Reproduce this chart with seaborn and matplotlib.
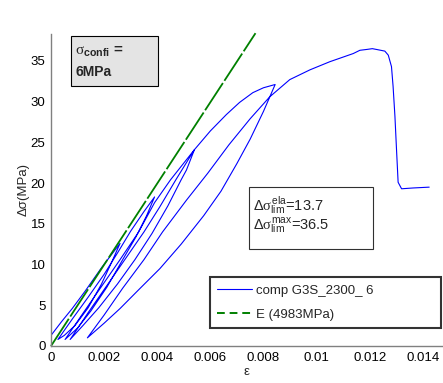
import pandas as pd
import seaborn as sns
import matplotlib
matplotlib.use("Agg")
import matplotlib.pyplot as plt
from matplotlib.patches import Rectangle
from matplotlib.lines import Line2D

# strain / stress path (loops, then envelope and failure)
strain = [0, 0.0004, 0.0008, 0.0013, 0.0019, 0.0026,
          0.0023, 0.0019, 0.0014, 0.0009, 0.0005, 0.00026,
          0.0008, 0.0014, 0.0020, 0.0025, 0.0030, 0.0035, 0.0039,
          0.0036, 0.0032, 0.0027, 0.0021, 0.0015, 0.0010, 0.00053,
          0.0012, 0.0019, 0.0026, 0.0033, 0.0039, 0.0045, 0.0054,
          0.0051, 0.0049, 0.0044, 0.0038, 0.00316, 0.0025, 0.0018, 0.0012, 0.00072,
          0.0014, 0.0021, 0.0028, 0.0035, 0.0041, 0.0047, 0.0054,
          0.0060, 0.0066, 0.0071, 0.0076, 0.0080, 0.00844,
          0.0080, 0.0075, 0.0070, 0.0064, 0.00575, 0.0049, 0.0041, 0.0033, 0.0026, 0.0020, 0.00137,
          0.0020, 0.0027, 0.0035, 0.0042, 0.0051, 0.0059, 0.0067, 0.0075, 0.00824,
          0.00899, 0.00975, 0.0105, 0.01138, 0.01163, 0.01188, 0.0121, 0.01226, 0.01257,
          0.0127, 0.01282, 0.01288, 0.01295, 0.01301, 0.01307, 0.0132, 0.01364, 0.01424]
stress = [1.3, 3.0, 4.6, 6.8, 9.6, 12.6,
          10.4, 7.6, 4.7, 2.5, 1.3, 0.8,
          3.3, 6.0, 8.8, 11.4, 14.1, 16.5, 18.3,
          16.0, 13.4, 10.6, 7.2, 4.3, 2.2, 0.8,
          4.0, 7.3, 10.6, 14.0, 17.6, 20.4, 24.1,
          21.6, 20.4, 17.2, 13.8, 10.6, 7.6, 4.7, 2.5, 0.8,
          4.1, 7.4, 10.7, 14.0, 17.1, 20.4, 24.1,
          26.4, 28.4, 29.9, 31.1, 31.7, 32.1,
          28.8, 25.4, 22.4, 19.0, 16.0, 12.5, 9.5, 6.9, 4.6, 2.8, 1.0,
          3.8, 7.1, 10.6, 14.0, 17.9, 21.2, 24.7, 27.9, 30.6,
          32.7, 33.9, 34.9, 35.9, 36.3, 36.4, 36.5, 36.4, 36.2,
          35.7, 34.3, 31.9, 28.2, 24.1, 20.1, 19.3, 19.4, 19.5]

# elastic modulus line E = 4983 MPa
e_strain = [0, 0.0077]
e_stress = [0, 38.4]

xticks = [0, 0.002, 0.004, 0.006, 0.008, 0.01, 0.012, 0.014]
xlabels = ["0", "0.002", "0.004", "0.006", "0.008", "0.01", "0.012", "0.014"]
yticks = [0, 5, 10, 15, 20, 25, 30, 35]

sns.set_style("white")
plt.rcParams["font.family"] = ["Liberation Sans", "DejaVu Sans"]
plt.rcParams["mathtext.fontset"] = "custom"
plt.rcParams["mathtext.rm"] = "Liberation Sans"
plt.rcParams["mathtext.bf"] = "Liberation Sans:bold"
plt.rcParams["mathtext.it"] = "Liberation Serif"
plt.rcParams["mathtext.sf"] = "Liberation Sans"

df = pd.DataFrame({"strain": strain, "stress": stress})
dfe = pd.DataFrame({"strain": e_strain, "stress": e_stress})

fig = plt.figure(figsize=(4.43, 3.83), dpi=100)
ax = fig.add_axes([51 / 443, 1 - 346 / 383, 392 / 443, 312 / 383])

sns.lineplot(x="strain", y="stress", data=df, sort=False, estimator=None,
             color="#0000ff", linewidth=0.8, ax=ax)
sns.lineplot(x="strain", y="stress", data=dfe, sort=False, estimator=None,
             color="#008000", linewidth=1.3, ax=ax)
ax.lines[-1].set_dashes((18, 1.5))
ax.lines[-1].set_clip_on(False)

ax.set_xlim(0, 0.01476)
ax.set_ylim(0, 38.3)
ax.set_xticks(xticks)
ax.set_xticklabels(xlabels)
ax.set_yticks(yticks)
ax.tick_params(direction="in", length=4, width=0.8, color="#808080",
               labelsize=9.5, labelcolor="black", pad=4)
for s in ["top", "right"]:
    ax.spines[s].set_visible(False)
for s in ["left", "bottom"]:
    ax.spines[s].set_color("#808080")
    ax.spines[s].set_linewidth(1.0)

ax.set_xlabel("ε", fontsize=9.5, labelpad=2)
ax.set_ylabel("Δσ(MPa)", fontsize=9.5, labelpad=1)

# legend
handles = [Line2D([], [], color="#0000ff", linewidth=0.8),
           Line2D([], [], color="#008000", linewidth=1.4, linestyle="--", dashes=(4, 2.5))]
leg = ax.legend(handles, ["comp G3S_2300_ 6", "E (4983MPa)"],
                loc="lower left", bbox_to_anchor=(0.4056, 0.0577, 0.589, 0.176),
                mode="expand", fontsize=9.5, frameon=True, fancybox=False,
                borderpad=0.55, labelspacing=0.9, handlelength=2.65,
                handletextpad=0.25, borderaxespad=0)
leg.get_frame().set_edgecolor("black")
leg.get_frame().set_linewidth(1.5)

# confinement box
fig.add_artist(Rectangle((71 / 443, 1 - 86 / 383), 87 / 443, 50 / 383,
                         transform=fig.transFigure, facecolor="#e4e4e4",
                         edgecolor="black", linewidth=0.8))
fig.text(75 / 443, 1 - 52 / 383, r"$\sigma_{\mathbf{confi}}$ =", fontsize=11,
         fontweight="bold", va="center", ha="left")
fig.text(75 / 443, 1 - 72 / 383, "6MPa", fontsize=10, fontweight="bold",
         va="center", ha="left")

# limits box
fig.add_artist(Rectangle((249 / 443, 1 - 249 / 383), 124 / 443, 62 / 383,
                         transform=fig.transFigure, facecolor="white",
                         edgecolor="#303030", linewidth=0.8))
fig.text(253 / 443, 1 - 205 / 383, r"$\Delta\sigma^{\mathrm{ela}}_{\mathrm{lim}}$=13.7",
         fontsize=10.5, va="center", ha="left")
fig.text(253 / 443, 1 - 225 / 383, r"$\Delta\sigma^{\mathrm{max}}_{\mathrm{lim}}$=36.5",
         fontsize=10.5, va="center", ha="left")

fig.savefig("out.png", dpi=100)
